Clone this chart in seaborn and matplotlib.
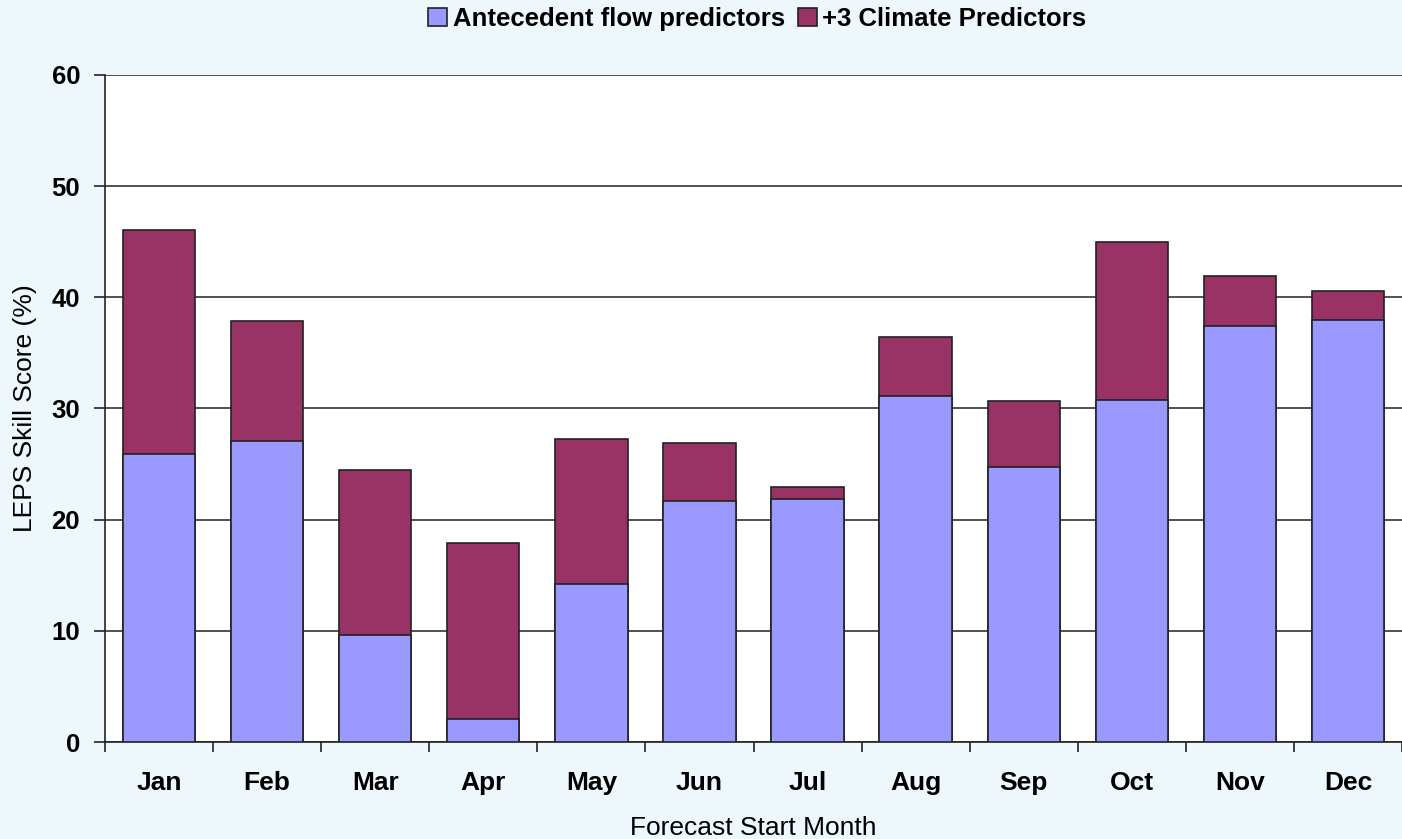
import matplotlib
matplotlib.use("Agg")
import matplotlib.pyplot as plt
import seaborn as sns
import numpy as np
import pandas as pd

months = ["Jan", "Feb", "Mar", "Apr", "May", "Jun", "Jul", "Aug", "Sep", "Oct", "Nov", "Dec"]
antecedent = [25.9, 27.1, 9.6, 2.1, 14.2, 21.7, 21.9, 31.1, 24.7, 30.8, 37.4, 38.0]
with_climate = [46.1, 37.9, 24.5, 17.9, 27.3, 26.9, 22.9, 36.4, 30.7, 45.0, 41.9, 40.6]
yticks = [0, 10, 20, 30, 40, 50, 60]

sns.set_theme(style="white")
plt.rcParams['font.family'] = ['Liberation Sans', 'DejaVu Sans']
plt.rcParams['text.color'] = 'black'
plt.rcParams['axes.labelcolor'] = 'black'
plt.rcParams['xtick.color'] = 'black'
plt.rcParams['ytick.color'] = 'black'

bg = "#EEF7FB"
c_base = "#9999FF"
c_top = "#993366"

df = pd.DataFrame({"month": months, "base": antecedent, "total": with_climate})

fig = plt.figure(figsize=(14.02, 8.39), dpi=100, facecolor=bg)
ax = fig.add_axes([105/1402, 1 - 742/839, 1 - 105/1402, (742 - 75)/839])
ax.set_facecolor("white")

sns.barplot(data=df, x="month", y="total", color=c_top, width=0.67,
            edgecolor="#222222", linewidth=1.2, saturation=1, ax=ax, zorder=3,
            label="+3 Climate Predictors")
sns.barplot(data=df, x="month", y="base", color=c_base, width=0.67,
            edgecolor="#222222", linewidth=1.2, saturation=1, ax=ax, zorder=4,
            label="Antecedent flow predictors")

handles, labels = ax.get_legend_handles_labels()
if ax.get_legend() is not None:
    ax.get_legend().remove()

ax.set_ylim(0, 60)
ax.set_xlim(-0.5, 11.5)
ax.set_yticks(yticks)
ax.yaxis.grid(True, color="#222222", linewidth=1.1, zorder=0)
ax.set_axisbelow(True)

for s in ["top", "right"]:
    ax.spines[s].set_visible(False)
ax.spines["left"].set_color("#222222")
ax.spines["bottom"].set_color("#222222")
ax.spines["left"].set_linewidth(1.2)
ax.spines["bottom"].set_linewidth(1.2)

ax.tick_params(axis="y", which="major", direction="out", length=8, width=1.2,
               color="#222222", left=True, labelsize=18.5, pad=10)
ax.tick_params(axis="x", which="major", length=0, labelsize=19, pad=21)
ax.set_xticks(np.arange(-0.5, 12, 1), minor=True)
ax.tick_params(axis="x", which="minor", direction="out", length=7, width=1.2,
               color="#222222", bottom=True)
for lab in ax.get_xticklabels() + ax.get_yticklabels():
    lab.set_fontweight("bold")

ax.set_ylabel("LEPS Skill Score (%)", fontsize=19, labelpad=10)
ax.set_xlabel("Forecast Start Month", fontsize=19, labelpad=15)

order = [labels.index("Antecedent flow predictors"), labels.index("+3 Climate Predictors")]
fig.legend([handles[i] for i in order], [labels[i] for i in order],
           loc="center", bbox_to_anchor=(0.54, 1 - 19/839), ncol=2,
           frameon=False, prop={"size": 18.5, "weight": "bold"},
           handlelength=0.75, handleheight=0.75, handletextpad=0.2,
           columnspacing=0.5, borderaxespad=0)

fig.savefig("out.png", dpi=100, facecolor=bg)
